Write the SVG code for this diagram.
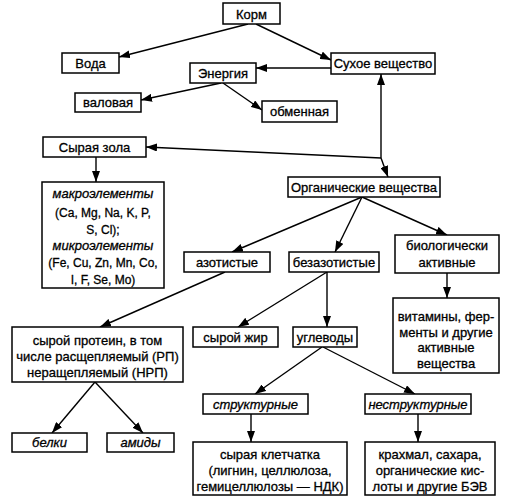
<svg xmlns="http://www.w3.org/2000/svg" width="510" height="502" viewBox="0 0 510 502">
<defs>
<style>
rect{fill:#fff;stroke:#000;stroke-width:1.5}
text{font-family:"Liberation Sans","DejaVu Sans",sans-serif;font-size:13px;fill:#000;stroke:#000;stroke-width:0.3;text-anchor:middle}
.i{font-style:italic}
.s{font-size:12px}
#conn line{stroke:#000;stroke-width:1.4;marker-end:url(#ah)}
</style>
<marker id="ah" markerUnits="userSpaceOnUse" markerWidth="11" markerHeight="8" refX="11" refY="4" orient="auto">
<path d="M0,0 L11,4 L0,8 z" fill="#000"/>
</marker>
</defs>
<rect x="0" y="0" width="510" height="502" style="fill:#fff;stroke:none"/>
<g id="conn">
<line x1="248" y1="24" x2="119" y2="57"/>
<line x1="256" y1="24" x2="331" y2="60"/>
<line x1="331" y1="68" x2="256" y2="68"/>
<line x1="221" y1="83" x2="141" y2="100"/>
<line x1="223" y1="83" x2="262" y2="110"/>
<line x1="381" y1="158" x2="381" y2="74"/>
<line x1="381" y1="158" x2="146" y2="147"/>
<line x1="381" y1="158" x2="388" y2="177"/>
<line x1="96" y1="157" x2="96" y2="182"/>
<line x1="362" y1="197" x2="232" y2="252"/>
<line x1="362" y1="197" x2="335" y2="252"/>
<line x1="362" y1="197" x2="447" y2="235"/>
<line x1="447" y1="273" x2="447" y2="298"/>
<line x1="225" y1="272" x2="100" y2="327"/>
<line x1="327" y1="272" x2="238" y2="327"/>
<line x1="327" y1="272" x2="327" y2="327"/>
<line x1="322" y1="347" x2="255" y2="394"/>
<line x1="323" y1="347" x2="415" y2="394"/>
<line x1="95" y1="382" x2="52" y2="433"/>
<line x1="95" y1="382" x2="143" y2="433"/>
<line x1="251" y1="414" x2="251" y2="442"/>
<line x1="418" y1="414" x2="418" y2="442"/>
</g>
<g id="korm"><rect x="223" y="3" width="57" height="21"/><text x="251.5" y="18.5">Корм</text></g>
<g id="voda"><rect x="62" y="53" width="57" height="20"/><text x="90.5" y="67.5">Вода</text></g>
<g id="energiya"><rect x="190" y="63" width="66" height="20"/><text x="223" y="77.5">Энергия</text></g>
<g id="sukhoe"><rect x="331" y="53" width="104" height="21"/><text x="383" y="68">Сухое вещество</text></g>
<g id="valovaya"><rect x="75" y="93" width="66" height="19"/><text x="108" y="107">валовая</text></g>
<g id="obmennaya"><rect x="262" y="101" width="75" height="21"/><text x="299.5" y="116">обменная</text></g>
<g id="zola"><rect x="43" y="137" width="103" height="20"/><text x="94.5" y="151.5">Сырая зола</text></g>
<g id="elementy"><rect x="42" y="182" width="122" height="106"/>
<text x="103" y="198" class="i">макроэлементы</text>
<text x="103" y="216.5" class="s">(Ca, Mg, Na, K, P,</text>
<text x="103" y="233.5" class="s">S, Cl);</text>
<text x="103" y="250" class="i">микроэлементы</text>
<text x="103" y="267" class="s">(Fe, Cu, Zn, Mn, Co,</text>
<text x="103" y="284" class="s">I, F, Se, Mo)</text></g>
<g id="organic"><rect x="288" y="177" width="152" height="20"/><text x="364" y="191.5">Органические вещества</text></g>
<g id="azot"><rect x="184" y="252" width="86" height="20"/><text x="227" y="266.5">азотистые</text></g>
<g id="bezazot"><rect x="289" y="252" width="90" height="20"/><text x="334" y="266.5">безазотистые</text></g>
<g id="bio"><rect x="395" y="235" width="104" height="38"/><text x="447" y="249.5">биологически</text><text x="447" y="266.5">активные</text></g>
<g id="vitaminy"><rect x="393" y="298" width="106" height="75"/>
<text x="446" y="321">витамины, фер-</text>
<text x="446" y="337">менты и другие</text>
<text x="446" y="352">активные</text>
<text x="446" y="368">вещества</text></g>
<g id="protein"><rect x="12" y="327" width="171" height="55"/>
<text x="97.5" y="345">сырой протеин, в том</text>
<text x="97.5" y="361">числе расщепляемый (РП)</text>
<text x="97.5" y="377">неращепляемый (НРП)</text></g>
<g id="zhir"><rect x="193" y="327" width="85" height="20"/><text x="235.5" y="341.5">сырой жир</text></g>
<g id="uglevody"><rect x="293" y="327" width="64" height="20"/><text x="325" y="341.5">углеводы</text></g>
<g id="strukt"><rect x="203" y="394" width="105" height="20"/><text x="255.5" y="408.5" class="i">структурные</text></g>
<g id="nestrukt"><rect x="365" y="394" width="106" height="20"/><text x="418" y="408.5" class="i">неструктурные</text></g>
<g id="belki"><rect x="12" y="433" width="75" height="19"/><text x="49.5" y="447" class="i">белки</text></g>
<g id="amidy"><rect x="107" y="433" width="67" height="19"/><text x="140.5" y="447" class="i">амиды</text></g>
<g id="kletchatka"><rect x="193" y="442" width="154" height="53"/>
<text x="270" y="459">сырая клетчатка</text>
<text x="270" y="475">(лигнин, целлюлоза,</text>
<text x="270" y="491">гемицеллюлозы — НДК)</text></g>
<g id="krakhmal"><rect x="365" y="442" width="130" height="53"/>
<text x="430" y="459">крахмал, сахара,</text>
<text x="430" y="475">органические кис-</text>
<text x="430" y="491">лоты и другие БЭВ</text></g>
</svg>
